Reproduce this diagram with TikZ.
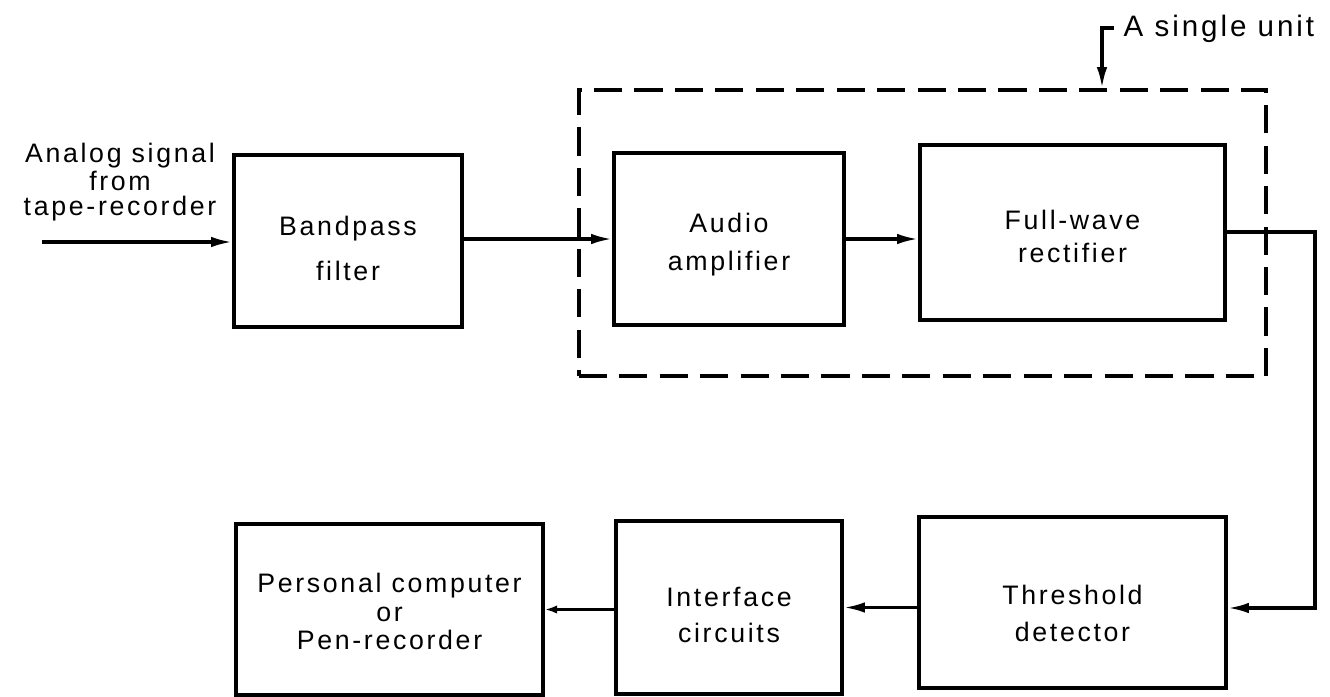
\documentclass[tikz,border=0pt]{standalone}
\usepackage{fontspec}
\setmainfont{Liberation Sans}
\newfontfamily\lab[LetterSpace=10]{Liberation Sans}
\usetikzlibrary{arrows.meta,calc}
\newcommand{\btext}[3]{\smash{\raisebox{#1}{\fontsize{7.6}{#2}\selectfont\begin{tabular}{@{}c@{}}#3\end{tabular}}}}
\tikzset{
  blk/.style={draw, line width=1pt, inner sep=0pt, align=center,
    font=\lab\fontsize{7.6}{10.5}\selectfont},
  arr/.style={line width=0.9pt, -{Latex[length=6pt,width=3pt]}},
  ln/.style={line width=0.9pt},
  dbox/.style={draw, line width=1pt, dash pattern=on 8pt off 3.5pt, inner sep=0pt},
}
\begin{document}
\begin{tikzpicture}[x=0.01cm, y=-0.01cm]
\useasboundingbox (0,0) rectangle (1330,697);
% dashed unit box
\node[dbox, minimum width=6.87cm, minimum height=2.86cm] (db) at (922.5,233) {};
% blocks
\node[blk, minimum width=2.28cm, minimum height=1.72cm] (bp) at (348,241) {\btext{-4.3pt}{12.8pt}{Bandpass\\filter}};
\node[blk, minimum width=2.30cm, minimum height=1.72cm] (aa) at (729,239) {\btext{-3.4pt}{10.8pt}{Audio\\amplifier}};
\node[blk, minimum width=3.05cm, minimum height=1.75cm] (fw) at (1072.5,232.5) {\btext{-4pt}{9.4pt}{Full-wave\\rectifier}};
\node[blk, minimum width=3.07cm, minimum height=1.71cm] (td) at (1072.5,602.5) {\btext{-5.8pt}{10.5pt}{Threshold\\detector}};
\node[blk, minimum width=2.26cm, minimum height=1.73cm] (ic) at (729,607.5) {\btext{-4.8pt}{10.2pt}{Interface\\circuits}};
\node[blk, minimum width=3.07cm, minimum height=1.71cm] (pc) at (389.5,609.5) {\btext{-3.7pt}{8.1pt}{Personal computer\\or\\Pen-recorder}};
% input label
\node[align=center, inner sep=0pt, font=\lab\fontsize{7.6}{6.9}\selectfont] (inl) at (120,182) {Analog signal\\from\\tape-recorder};
\coordinate (in) at (42,242);
% unit label
\node[anchor=base west, inner sep=0pt, font=\lab\fontsize{8.4}{10}\selectfont] (su) at (1123,36) {A single unit};
\coordinate (bk) at (1102,28);
\draw[arr] ($(su.west |- bk)+(-9,0)$) -- (bk) -- (bk |- db.north);
% connectors
\draw[arr] (in) -- (in -| bp.west);
\draw[arr] (bp.east |- aa.west) -- (aa.west);
\draw[arr] (aa.east) -- (aa.east -| fw.west);
\coordinate (r1) at (1315,232);
\coordinate (r2) at (1315,608);
\draw[arr] (fw.east |- r1) -- (r1) -- (r2) -- (r2 -| td.east);
\draw[arr] (td.west |- ic.east) -- (ic.east);
\draw[ln, -{Latex[length=3.5pt,width=2.4pt]}] (ic.west |- pc.east) -- (pc.east);
\end{tikzpicture}
\end{document}
